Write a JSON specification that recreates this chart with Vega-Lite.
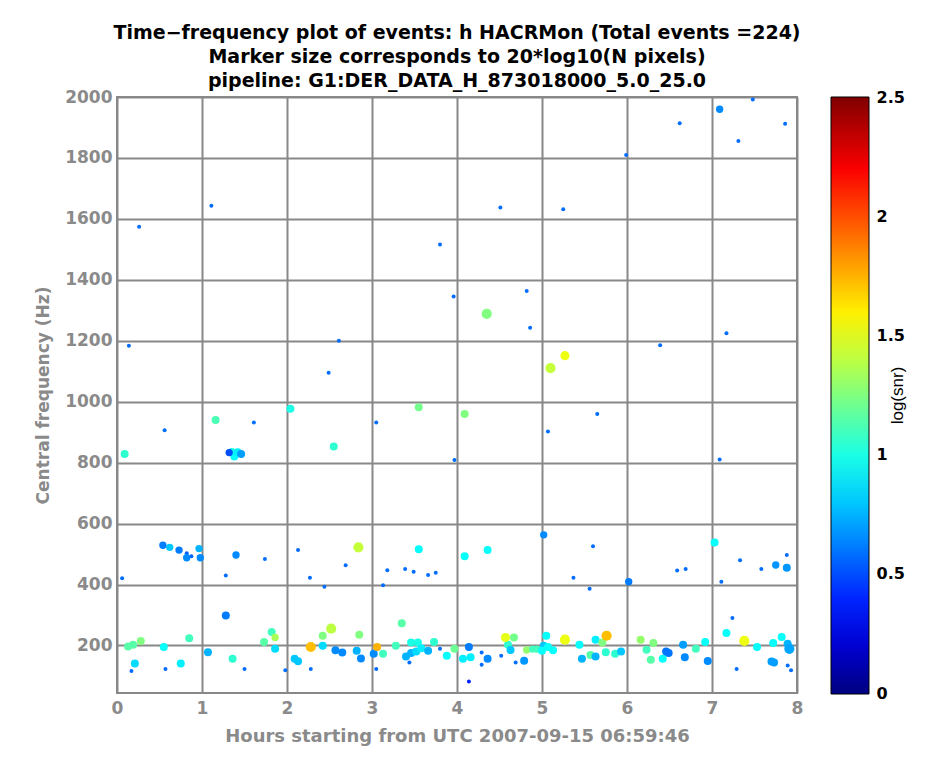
{
  "$schema": "https://vega.github.io/schema/vega-lite/v6.json",
  "width": 680,
  "height": 596,
  "autosize": {"type": "none"},
  "padding": {"left": 117, "top": 97, "right": 132, "bottom": 76},
  "background": "white",
  "title": {
    "text": ["Time−frequency plot of events: h HACRMon (Total events =224)", "Marker size corresponds to 20*log10(N pixels)", "pipeline: G1:DER_DATA_H_873018000_5.0_25.0"],
    "anchor": "middle",
    "font": "DejaVu Sans",
    "fontSize": 19,
    "fontWeight": "bold",
    "color": "black",
    "lineHeight": 24,
    "offset": -3
  },
  "data": {"values": [
    {"h":0.26,"f":1574,"s":0.58,"m":6},{"h":1.11,"f":1643,"s":0.58,"m":6},{"h":0.14,"f":1184,"s":0.58,"m":6},{"h":2.61,"f":1200,"s":0.58,"m":6},{"h":2.49,"f":1095,"s":0.58,"m":6},
    {"h":6.62,"f":1914,"s":0.58,"m":6},{"h":5.99,"f":1810,"s":0.58,"m":6},{"h":4.51,"f":1637,"s":0.58,"m":6},{"h":5.25,"f":1632,"s":0.58,"m":6},{"h":3.80,"f":1516,"s":0.58,"m":6},
    {"h":3.96,"f":1345,"s":0.58,"m":6},{"h":4.82,"f":1363,"s":0.58,"m":6},{"h":4.35,"f":1288,"s":1.25,"m":20},{"h":4.86,"f":1243,"s":0.58,"m":6},{"h":5.27,"f":1151,"s":1.52,"m":18},
    {"h":5.10,"f":1110,"s":1.42,"m":20},{"h":6.39,"f":1185,"s":0.58,"m":6},{"h":7.48,"f":1992,"s":0.58,"m":6},{"h":7.09,"f":1960,"s":0.65,"m":14},{"h":7.86,"f":1912,"s":0.58,"m":6},
    {"h":7.31,"f":1856,"s":0.58,"m":6},{"h":7.17,"f":1225,"s":0.58,"m":6},{"h":7.09,"f":810,"s":0.58,"m":6},
    {"h":4.09,"f":960,"s":1.25,"m":16},{"h":5.07,"f":902,"s":0.58,"m":6},{"h":5.65,"f":960,"s":0.58,"m":6},{"h":3.97,"f":809,"s":0.58,"m":6},{"h":0.09,"f":828,"s":1.05,"m":16},
    {"h":0.56,"f":906,"s":0.58,"m":6},{"h":1.16,"f":940,"s":1.12,"m":16},{"h":1.61,"f":932,"s":0.58,"m":6},{"h":2.04,"f":977,"s":1.0,"m":16},{"h":2.55,"f":853,"s":1.05,"m":16},
    {"h":3.05,"f":932,"s":0.58,"m":6},{"h":3.55,"f":982,"s":1.22,"m":16},
    {"h":1.35,"f":835,"s":1.0,"m":16},{"h":1.38,"f":820,"s":0.95,"m":16},{"h":1.42,"f":834,"s":0.9,"m":16},{"h":1.46,"f":828,"s":0.7,"m":16},{"h":1.32,"f":833,"s":0.5,"m":14},
    {"h":5.02,"f":563,"s":0.65,"m":14},{"h":4.09,"f":493,"s":0.95,"m":16},{"h":4.36,"f":513,"s":0.95,"m":16},{"h":5.60,"f":526,"s":0.58,"m":6},{"h":5.37,"f":422,"s":0.58,"m":6},
    {"h":5.56,"f":386,"s":0.58,"m":6},{"h":6.02,"f":409,"s":0.62,"m":14},{"h":6.59,"f":446,"s":0.58,"m":6},{"h":6.69,"f":451,"s":0.58,"m":6},{"h":7.03,"f":538,"s":0.95,"m":16},
    {"h":7.11,"f":409,"s":0.58,"m":6},{"h":7.33,"f":480,"s":0.58,"m":6},{"h":7.58,"f":451,"s":0.58,"m":6},{"h":7.75,"f":464,"s":0.68,"m":14},{"h":7.88,"f":497,"s":0.58,"m":6},
    {"h":7.88,"f":455,"s":0.68,"m":16},{"h":0.54,"f":529,"s":0.62,"m":14},{"h":0.62,"f":522,"s":0.8,"m":14},{"h":0.73,"f":513,"s":0.62,"m":14},{"h":0.82,"f":503,"s":0.55,"m":6},
    {"h":0.875,"f":493,"s":0.55,"m":6},{"h":0.82,"f":488,"s":0.65,"m":14},{"h":0.965,"f":518,"s":0.75,"m":14},{"h":0.98,"f":488,"s":0.65,"m":14},{"h":1.40,"f":497,"s":0.65,"m":14},
    {"h":1.74,"f":484,"s":0.58,"m":6},{"h":1.28,"f":430,"s":0.58,"m":6},{"h":0.06,"f":421,"s":0.58,"m":6},{"h":2.13,"f":513,"s":0.58,"m":6},{"h":2.84,"f":522,"s":1.42,"m":20},
    {"h":2.69,"f":463,"s":0.58,"m":6},{"h":2.27,"f":422,"s":0.58,"m":6},{"h":2.44,"f":393,"s":0.58,"m":6},{"h":3.55,"f":516,"s":0.95,"m":16},{"h":3.18,"f":447,"s":0.58,"m":6},
    {"h":3.39,"f":451,"s":0.58,"m":6},{"h":3.49,"f":442,"s":0.58,"m":6},{"h":3.66,"f":431,"s":0.58,"m":6},{"h":3.75,"f":439,"s":0.58,"m":6},{"h":3.13,"f":398,"s":0.58,"m":6},
    {"h":1.28,"f":298,"s":0.62,"m":16},{"h":1.82,"f":244,"s":1.1,"m":16},{"h":1.86,"f":226,"s":1.35,"m":14},{"h":1.73,"f":211,"s":1.15,"m":16},{"h":1.86,"f":189,"s":0.85,"m":16},
    {"h":0.85,"f":224,"s":1.1,"m":16},{"h":0.55,"f":195,"s":0.95,"m":16},{"h":0.13,"f":197,"s":1.15,"m":16},{"h":0.19,"f":202,"s":1.15,"m":16},{"h":0.28,"f":215,"s":1.25,"m":16},
    {"h":0.21,"f":141,"s":0.85,"m":16},{"h":0.75,"f":141,"s":0.9,"m":16},{"h":0.17,"f":116,"s":0.58,"m":6},{"h":0.57,"f":123,"s":0.58,"m":6},{"h":1.07,"f":178,"s":0.75,"m":16},
    {"h":1.36,"f":156,"s":1.05,"m":16},{"h":1.50,"f":123,"s":0.58,"m":6},{"h":1.98,"f":119,"s":0.58,"m":6},{"h":2.52,"f":255,"s":1.4,"m":20},{"h":2.42,"f":232,"s":1.25,"m":16},
    {"h":2.85,"f":235,"s":1.25,"m":16},{"h":2.42,"f":199,"s":0.85,"m":16},{"h":2.57,"f":184,"s":0.65,"m":16},{"h":2.65,"f":177,"s":0.65,"m":16},
    {"h":2.82,"f":183,"s":0.75,"m":16},{"h":2.87,"f":157,"s":0.65,"m":16},{"h":3.02,"f":173,"s":0.65,"m":16},{"h":3.13,"f":173,"s":1.1,"m":16},
    {"h":2.09,"f":156,"s":0.8,"m":16},{"h":2.13,"f":148,"s":0.8,"m":16},{"h":2.28,"f":123,"s":0.58,"m":6},{"h":3.05,"f":123,"s":0.58,"m":6},{"h":3.35,"f":273,"s":1.15,"m":16},
    {"h":3.28,"f":199,"s":1.1,"m":16},{"h":3.46,"f":210,"s":1.0,"m":16},{"h":3.54,"f":210,"s":1.0,"m":16},{"h":3.73,"f":211,"s":1.05,"m":16},{"h":3.40,"f":164,"s":0.75,"m":16},
    {"h":3.46,"f":175,"s":0.75,"m":16},{"h":3.52,"f":180,"s":0.85,"m":16},{"h":3.58,"f":191,"s":0.9,"m":16},{"h":3.66,"f":183,"s":0.75,"m":16},{"h":3.80,"f":189,"s":0.58,"m":6},
    {"h":3.44,"f":144,"s":0.58,"m":6},{"h":3.88,"f":166,"s":0.95,"m":16},{"h":3.97,"f":189,"s":1.2,"m":16},{"h":4.14,"f":195,"s":0.62,"m":16},{"h":4.07,"f":156,"s":0.9,"m":16},
    {"h":4.16,"f":161,"s":0.9,"m":16},{"h":4.14,"f":82,"s":0.4,"m":6},{"h":4.29,"f":177,"s":0.58,"m":6},{"h":4.29,"f":137,"s":0.58,"m":6},{"h":4.36,"f":156,"s":0.65,"m":16},
    {"h":4.52,"f":166,"s":0.58,"m":6},{"h":4.69,"f":144,"s":0.58,"m":6},{"h":4.79,"f":150,"s":0.68,"m":16},{"h":4.67,"f":226,"s":1.22,"m":16},
    {"h":4.60,"f":202,"s":1.05,"m":16},{"h":4.63,"f":185,"s":0.8,"m":16},{"h":4.82,"f":185,"s":1.3,"m":14},{"h":4.89,"f":188,"s":1.1,"m":14},{"h":4.94,"f":188,"s":1.1,"m":14},
    {"h":5.05,"f":232,"s":0.95,"m":16},{"h":5.02,"f":199,"s":0.8,"m":16},{"h":5.00,"f":183,"s":0.95,"m":16},{"h":5.13,"f":184,"s":0.95,"m":16},{"h":5.07,"f":195,"s":0.95,"m":16},
    {"h":5.44,"f":202,"s":0.95,"m":16},{"h":5.47,"f":156,"s":0.75,"m":16},{"h":5.63,"f":219,"s":0.9,"m":16},{"h":5.71,"f":210,"s":1.25,"m":16},
    {"h":5.57,"f":169,"s":1.15,"m":16},{"h":5.63,"f":164,"s":0.75,"m":16},{"h":5.75,"f":178,"s":1.05,"m":16},{"h":5.86,"f":173,"s":1.05,"m":16},{"h":5.93,"f":180,"s":0.8,"m":16},
    {"h":6.16,"f":219,"s":1.3,"m":16},{"h":6.31,"f":208,"s":1.25,"m":16},{"h":6.23,"f":186,"s":1.1,"m":16},{"h":6.28,"f":153,"s":1.15,"m":16},{"h":6.42,"f":156,"s":0.95,"m":16},
    {"h":6.46,"f":180,"s":0.6,"m":16},{"h":6.49,"f":175,"s":0.6,"m":16},{"h":6.66,"f":202,"s":0.7,"m":16},{"h":6.68,"f":161,"s":0.65,"m":16},{"h":6.81,"f":189,"s":1.1,"m":16},
    {"h":6.92,"f":211,"s":0.95,"m":16},{"h":6.95,"f":149,"s":0.65,"m":16},{"h":7.24,"f":290,"s":0.58,"m":6},{"h":7.17,"f":241,"s":0.95,"m":16},
    {"h":7.53,"f":195,"s":0.95,"m":16},{"h":7.72,"f":208,"s":0.95,"m":16},{"h":7.82,"f":228,"s":0.95,"m":16},{"h":7.89,"f":206,"s":0.75,"m":16},{"h":7.91,"f":189,"s":0.72,"m":20},
    {"h":7.29,"f":123,"s":0.58,"m":6},{"h":7.70,"f":147,"s":0.7,"m":16},{"h":7.73,"f":144,"s":0.7,"m":16},{"h":7.89,"f":134,"s":0.58,"m":6},{"h":7.93,"f":119,"s":0.58,"m":6},
    {"h":2.28,"f":195,"s":1.72,"m":20},{"h":3.06,"f":195,"s":1.75,"m":16},{"h":4.57,"f":226,"s":1.5,"m":18},{"h":5.27,"f":219,"s":1.52,"m":20},{"h":5.76,"f":232,"s":1.72,"m":20},
    {"h":7.38,"f":215,"s":1.52,"m":20}
  ]},
  "layer": [
    {
      "mark": {"type": "circle", "opacity": 1},
      "encoding": {
        "x": {
          "field": "h", "type": "quantitative",
          "scale": {"domain": [0, 8], "nice": false, "zero": false},
          "axis": {
            "title": "Hours starting from UTC 2007-09-15 06:59:46",
            "values": [0, 1, 2, 3, 4, 5, 6, 7, 8], "format": "d",
            "grid": true, "gridColor": "#888888", "gridWidth": 2, "gridOpacity": 1,
            "domain": false, "ticks": false,
            "labelFont": "DejaVu Sans", "labelFontSize": 17, "labelFontWeight": "bold", "labelColor": "#8a8a8a",
            "labelPadding": 7, "labelFlush": false, "labelOverlap": false,
            "titleFont": "DejaVu Sans", "titleFontSize": 18, "titleFontWeight": "bold", "titleColor": "#8a8a8a",
            "titlePadding": 11
          }
        },
        "y": {
          "field": "f", "type": "quantitative",
          "scale": {"domain": [44, 2000], "nice": false, "zero": false},
          "axis": {
            "title": "Central frequency (Hz)",
            "values": [200, 400, 600, 800, 1000, 1200, 1400, 1600, 1800, 2000], "format": "d",
            "grid": true, "gridColor": "#888888", "gridWidth": 2, "gridOpacity": 1,
            "domain": false, "ticks": false,
            "labelFont": "DejaVu Sans", "labelFontSize": 17, "labelFontWeight": "bold", "labelColor": "#8a8a8a",
            "labelPadding": 5, "labelFlush": false, "labelOverlap": false,
            "titleFont": "DejaVu Sans", "titleFontSize": 17, "titleFontWeight": "bold", "titleColor": "#8a8a8a",
            "titlePadding": 12
          }
        },
        "color": {
          "field": "s", "type": "quantitative",
          "scale": {
            "domain": [0, 0.3125, 0.9375, 1.5625, 2.1875, 2.5],
            "range": ["#000080", "#0000ff", "#00ffff", "#ffff00", "#ff0000", "#800000"],
            "interpolate": "rgb"
          },
          "legend": {
            "title": null,
            "orient": "none", "legendX": 714, "legendY": 0, "direction": "vertical",
            "gradientLength": 597, "gradientThickness": 38,
            "gradientStrokeColor": "#000000", "gradientStrokeWidth": 1,
            "values": []
          }
        },
        "size": {
          "field": "m", "type": "quantitative",
          "scale": {"domain": [6, 16, 22], "range": [16, 64, 123]},
          "legend": null
        }
      }
    },
    {
      "mark": {"type": "point", "opacity": 0},
      "encoding": {
        "y": {
          "field": "s", "type": "quantitative",
          "scale": {"domain": [0, 2.5], "nice": false, "zero": false},
          "axis": {
            "orient": "right", "offset": 72,
            "title": "log(snr)", "values": [0, 0.5, 1, 1.5, 2, 2.5], "format": "~g",
            "ticks": false, "domain": false, "grid": false,
            "labelFont": "DejaVu Sans", "labelFontSize": 16, "labelFontWeight": "bold", "labelColor": "#000000",
            "labelPadding": 7, "labelFlush": false, "labelOverlap": false, "labelBaseline": "middle",
            "titleAngle": -90, "titleBaseline": "top", "titleX": 20,
            "titleFont": "Liberation Sans", "titleFontSize": 17, "titleFontWeight": "normal", "titleColor": "#000000"
          }
        }
      }
    }
  ],
  "resolve": {"scale": {"y": "independent"}, "axis": {"y": "independent"}},
  "config": {
    "view": {"stroke": "#888888", "strokeWidth": 2}
  }
}
